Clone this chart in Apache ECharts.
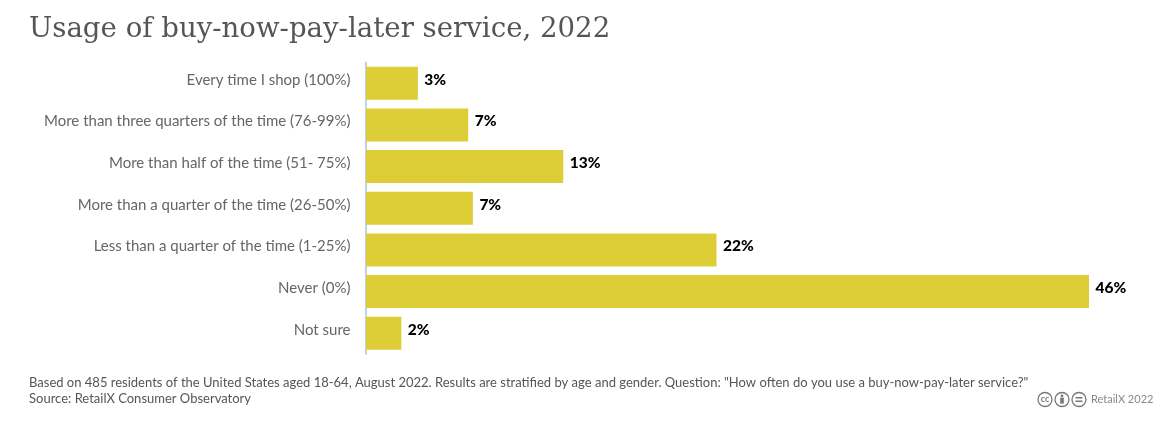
<!DOCTYPE html>
<html><head><meta charset="utf-8">
<style>html,body{margin:0;padding:0;background:#fff}#c{width:1175px;height:424px}</style>
<script src="https://cdn.jsdelivr.net/npm/echarts@6/dist/echarts.min.js"></script>
</head><body><div id="c"></div>
<script>
const categories = ["Every time I shop (100%)","More than three quarters of the time (76-99%)","More than half of the time (51- 75%)","More than a quarter of the time (26-50%)","Less than a quarter of the time (1-25%)","Never (0%)","Not sure"];
const values = [3.3,6.5,12.55,6.8,22.3,46.0,2.25];
const valueLabels = ["3%","7%","13%","7%","22%","46%","2%"];
const titleText = "Usage of buy-now-pay-later service, 2022";
const noteLines = ["Based on 485 residents of the United States aged 18-64, August 2022. Results are stratified by age and gender. Question: \"How often do you use a buy-now-pay-later service?\"","Source: RetailX Consumer Observatory"];
const creditText = "RetailX 2022";

const chart = echarts.init(document.getElementById('c'), null, {renderer:'canvas'});
const F = 'Lato';
const ccIcon = (cx, inner) => [
  {type:'circle',shape:{cx,cy:399.5,r:7},style:{fill:'#fff',stroke:'#777',lineWidth:1.3}},
  ...inner
];
chart.setOption({
  animation:false,
  backgroundColor:'#fff',
  title:{text:titleText,left:24,top:11,textStyle:{fontFamily:'DejaVu Serif',fontWeight:'normal',fontSize:27.6,color:'#555'}},
  grid:{left:366,top:62.5,width:723,height:291.5,containLabel:false},
  xAxis:{type:'value',min:0,max:46,show:false},
  yAxis:{type:'category',inverse:true,data:categories,
    axisLine:{show:true,onZero:false,lineStyle:{color:'#c5cfe8',width:2}},
    axisTick:{show:false},
    axisLabel:{fontFamily:F,fontSize:15,color:'#666',margin:15.5,verticalAlign:'bottom',lineHeight:7}},
  series:[{type:'bar',data:values,barWidth:33,itemStyle:{color:'#DDCD37'},
    label:{show:true,position:'right',distance:6.5,offset:[0,-3.5],fontFamily:F,fontWeight:900,fontSize:15.5,color:'#000',
      formatter:p=>valueLabels[p.dataIndex]}}],
  graphic:[
    {type:'text',x:29,y:376.5,style:{text:noteLines[0],fontFamily:F,fontSize:13,fill:'#555'}},
    {type:'text',x:29,y:392,style:{text:noteLines[1],fontFamily:F,fontSize:13,fill:'#555'}},
    {type:'text',x:1091,y:393.5,style:{text:creditText,fontFamily:F,fontSize:11,fill:'#888'}},
    ...ccIcon(1045,[{type:'text',x:1045,y:399.5,style:{text:'cc',align:'center',verticalAlign:'middle',fontFamily:F,fontWeight:'bold',fontSize:9,fill:'#777'}}]),
    ...ccIcon(1062,[{type:'circle',shape:{cx:1062,cy:395.8,r:1.4},style:{fill:'#777'}},{type:'rect',shape:{x:1060.2,y:397.6,width:3.6,height:6},style:{fill:'#777'}}]),
    ...ccIcon(1079,[{type:'rect',shape:{x:1075.5,y:397,width:7,height:1.5},style:{fill:'#777'}},{type:'rect',shape:{x:1075.5,y:400.5,width:7,height:1.5},style:{fill:'#777'}}])
  ]
});
</script></body></html>
